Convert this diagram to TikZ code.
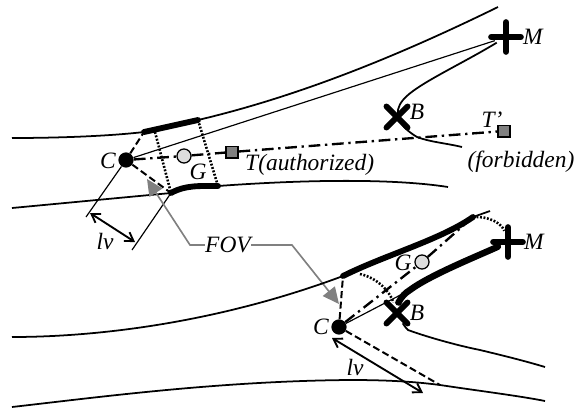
\documentclass[tikz,border=0pt]{standalone}
\usepackage{fontspec}
\setmainfont{Liberation Serif}
\usetikzlibrary{arrows.meta,positioning,calc,shapes.misc}
\definecolor{Marker}{HTML}{808080}
\definecolor{Centre}{HTML}{DDDDDD}
\tikzset{
  road/.style={line width=1.5pt},
  wall/.style={line width=5pt,line cap=round},
  sight/.style={line width=1pt},
  ray/.style={line width=1.7pt,dash pattern=on 6pt off 3pt},
  track/.style={line width=2pt,dash pattern=on 10pt off 4pt on 2pt off 4pt},
  edge/.style={line width=2.2pt,dash pattern=on 1.6pt off 1.4pt},
  span/.style={line width=1.6pt,{Straight Barb[length=7pt,width=9pt]}-{Straight Barb[length=7pt,width=9pt]}},
  callout/.style={line width=1.4pt,Marker,-{Triangle[length=14pt,width=13pt]}},
  txt/.style={font=\fontsize{20}{22}\selectfont\itshape,inner sep=0pt},
  camera/.style={circle,fill=black,minimum size=13pt,inner sep=0pt},
  gravity/.style={circle,draw,fill=Centre,line width=1.1pt,minimum size=12pt,inner sep=0pt},
  target/.style={rectangle,draw,fill=Marker,line width=1.1pt,minimum size=10pt,inner sep=0pt},
  plus/.style={cross out,draw,line width=5pt,line cap=round,minimum size=13pt,inner sep=0pt,rotate=45},
  xmark/.style={cross out,draw,line width=5pt,line cap=round,minimum size=13pt,inner sep=0pt},
}
\begin{document}
\begin{tikzpicture}[x=0.03cm,y=-0.03cm]
    \useasboundingbox (0,0) rectangle (576,409);
    % first view
    \node[camera] (c1) at (126,160) {};
    \node[plus] (m1) at (506,37) {};
    \node[xmark] (b1) at (397,117) {};
    \node[gravity] (g1) at (184,156) {};
    \node[target] (t1) at (232,152) {};
    \node[target] (t2) at (504,131) {};
    \coordinate (w1) at (144,132);
    \coordinate (w2) at (198,120);
    \coordinate (w3) at (171,193);
    \coordinate (w4) at (218,186);
    \coordinate (p1) at (155,132);
    \coordinate (a1) at (86,217);
    \coordinate (a2) at (132,250);
    \coordinate (l1) at (90,213);
    \coordinate (l2) at (135,242);
    \draw[road] (12,138) .. controls (60,138) and (110,136) .. (w1);
    \draw[road] (w2) .. controls (300,96) and (400,55) .. (498,7);
    \draw[road] (12,208) -- (w3);
    \draw[road] (w4) .. controls (300,180) and (390,178) .. (448,187);
    \draw[road] (m1) .. controls (460,65) and (415,85) .. (403,100) .. controls (393,112) and (397,125) .. (417,137) .. controls (430,142) and (445,143) .. (462,147);
    \draw[wall] (w1) -- (w2);
    \draw[wall] (w3) .. controls (185,185) and (200,186) .. (w4);
    \draw[sight] (c1) -- (m1);
    \draw[track] (c1) -- (g1) -- (t1) -- (t2);
    \draw[ray] (c1) -- (w1);
    \draw[ray] (c1) -- (w3);
    \draw[edge] (p1) -- (w3);
    \draw[edge] (w2) -- (w4);
    \draw[sight] (c1) -- (a1);
    \draw[sight] (w3) -- (a2);
    \draw[span] (l1) -- (l2);
    \node[txt] (lc1) at (108,161) {C};
    \node[txt] (lg1) at (198,172) {G};
    \node[txt,anchor=west] (lt1) at (245,165) {T(authorized)};
    \node[txt] (lt2) at (492,120) {T’};
    \node[txt] (lf1) at (521,162) {(forbidden)};
    \node[txt] (lb1) at (417,112) {B};
    \node[txt] (lm1) at (533,37) {M};
    \node[txt] (lv1) at (105,241) {lv};
    % FOV call-out
    \node[txt] (fov) at (228,245) {FOV};
    \coordinate (f1) at (190,245);
    \coordinate (f2) at (292,245);
    \draw[callout] (fov.west) -- (f1) -- (147,179);
    \draw[callout] (fov.east) -- (f2) -- (339,304);
    % second view
    \node[camera] (c2) at (339,327) {};
    \node[plus] (m2) at (508,242) {};
    \node[xmark] (b2) at (397,313) {};
    \node[gravity] (g2) at (422,262) {};
    \coordinate (w5) at (343,276);
    \coordinate (w6) at (473,217);
    \coordinate (e1) at (360,274);
    \coordinate (n1) at (410,290);
    \coordinate (d1) at (440,385);
    \coordinate (l3) at (332,338);
    \coordinate (l4) at (423,393);
    \draw[road] (12,337) .. controls (100,337) and (220,322) .. (w5);
    \draw[road] (w6) -- (490,211);
    \draw[road] (12,407) .. controls (100,397) and (220,381) .. (350,380) .. controls (380,380) and (410,381) .. (d1) .. controls (480,391) and (520,396) .. (545,401);
    \draw[road] (b2) .. controls (402,322) and (404,326) .. (408,330) .. controls (430,338) and (460,346) .. (480,350) .. controls (505,356) and (525,361) .. (545,367);
    \draw[wall] (w5) .. controls (385,255) and (440,240) .. (w6);
    \draw[wall,line width=5.5pt] (m2) .. controls (480,255) and (430,275) .. (n1) .. controls (400,296) and (398,305) .. (b2);
    \draw[sight] (c2) -- (n1);
    \draw[track] (c2) -- (g2) -- (w6);
    \draw[ray] (c2) -- (w5);
    \draw[ray] (c2) -- (d1);
    \draw[edge] (e1) .. controls (378,278) and (390,292) .. (b2);
    \draw[edge] (w6) .. controls (490,216) and (502,224) .. (m2);
    \draw[span] (l3) -- (l4);
    \node[txt] (lc2) at (321,327) {C};
    \node[txt] (lg2) at (403,263) {G};
    \node[txt] (lb2) at (417,313) {B};
    \node[txt] (lm2) at (534,242) {M};
    \node[txt] (lv2) at (355,367) {lv};
  \end{tikzpicture}
\end{document}
